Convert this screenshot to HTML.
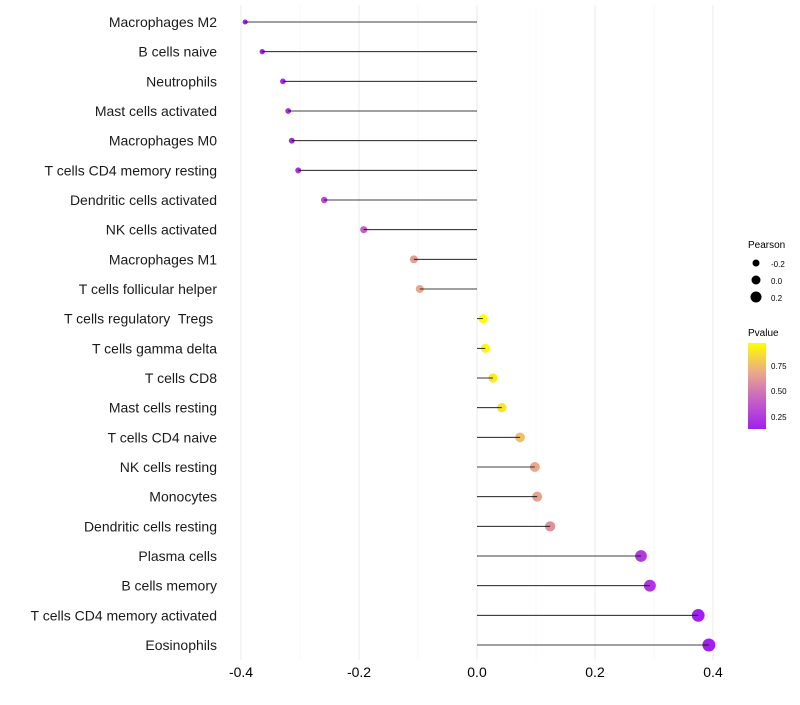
<!DOCTYPE html>
<html><head><meta charset="utf-8"><style>
body{margin:0;background:#fff;font-family:"Liberation Sans",sans-serif}
text{white-space:pre}
</style></head><body>
<svg id="chart" width="800" height="700" xmlns="http://www.w3.org/2000/svg">
<defs><linearGradient id="pg" x1="0" y1="1" x2="0" y2="0">
<stop offset="0" stop-color="#a020f0"/><stop offset="0.35" stop-color="#c963c4"/><stop offset="0.65" stop-color="#e9a78c"/><stop offset="1" stop-color="#ffff00"/>
</linearGradient></defs>
<g id="grid"></g><g id="dots"></g><g id="stems"></g><g id="labels"></g>
<g>
<text x="748" y="248" font-size="10">Pearson</text>
<circle cx="756" cy="263" r="3.5" fill="#000"/><text x="771" y="267" font-size="8">-0.2</text>
<circle cx="756" cy="280" r="4.5" fill="#000"/><text x="771" y="284" font-size="8">0.0</text>
<circle cx="756" cy="297" r="5.5" fill="#000"/><text x="771" y="301" font-size="8">0.2</text>
</g>
<g>
<text x="748" y="336" font-size="10">Pvalue</text>
<rect x="748" y="343" width="18" height="86" fill="url(#pg)"/>
<text x="771" y="369" font-size="8">0.75</text>
<text x="771" y="394" font-size="8">0.50</text>
<text x="771" y="420" font-size="8">0.25</text>
</g>
</svg>
<script>
const categories=["Macrophages M2","B cells naive","Neutrophils","Mast cells activated","Macrophages M0","T cells CD4 memory resting","Dendritic cells activated","NK cells activated","Macrophages M1","T cells follicular helper","T cells regulatory  Tregs ","T cells gamma delta","T cells CD8","Mast cells resting","T cells CD4 naive","NK cells resting","Monocytes","Dendritic cells resting","Plasma cells","B cells memory","T cells CD4 memory activated","Eosinophils"];
const pearson=[-0.393,-0.364,-0.329,-0.320,-0.314,-0.303,-0.259,-0.192,-0.107,-0.097,0.010,0.014,0.027,0.042,0.073,0.098,0.102,0.124,0.278,0.293,0.375,0.393];
const pvalue=[0.12,0.15,0.18,0.18,0.17,0.2,0.3,0.4,0.65,0.68,0.97,0.95,0.9,0.88,0.76,0.68,0.66,0.6,0.25,0.22,0.1,0.08];
const xticks=[-0.4,-0.2,0.0,0.2,0.4];
const xtickLabels=["-0.4","-0.2","0.0","0.2","0.4"];
const NS="http://www.w3.org/2000/svg";
const x=v=>477+v*590;
const y=i=>22+i*(623/21);
const r=v=>4.5+5*v;
function hex(c){return c.match(/\w\w/g).map(h=>parseInt(h,16));}
const stops=[[0.13,"a020f0"],[0.42,"c963c4"],[0.68,"e9a78c"],[0.97,"ffff00"]];
function col(p){p=Math.max(0.13,Math.min(0.97,p));for(let k=0;k<stops.length-1;k++){const[a,ca]=stops[k],[b,cb]=stops[k+1];if(p<=b){const t=(p-a)/(b-a),A=hex(ca),B=hex(cb);return "rgb("+A.map((v,j)=>Math.round(v+(B[j]-v)*t)).join(",")+")";}}return "#ff0";}
function mk(tag,attrs,parent){const e=document.createElementNS(NS,tag);for(const k in attrs)e.setAttribute(k,attrs[k]);parent.appendChild(e);return e;}
const grid=document.getElementById('grid'),dots=document.getElementById('dots'),stems=document.getElementById('stems'),labels=document.getElementById('labels');
[-0.3,-0.1,0.1,0.3].forEach(v=>{const l=mk('line',{x1:x(v),x2:x(v),y1:5,y2:660,stroke:"#f4f4f4","stroke-width":0.5},grid);

});
xticks.forEach((v,i)=>{const l=mk('line',{x1:x(v),x2:x(v),y1:5,y2:660,stroke:"#ebebeb","stroke-width":1},grid);


const t=mk('text',{x:x(v),y:677,"font-size":14,"text-anchor":"middle",fill:"#000"},labels);t.textContent=xtickLabels[i];

});
categories.forEach((c,i)=>{const yy=y(i);
const d=mk('circle',{cx:x(pearson[i]),cy:yy,r:r(pearson[i]),fill:col(pvalue[i])},dots);


const l=mk('line',{x1:x(0),x2:x(pearson[i]),y1:yy,y2:yy,stroke:"#000","stroke-width":0.8},stems);


const t=mk('text',{x:217,y:yy+5,"font-size":14,"text-anchor":"end",fill:"#1a1a1a"},labels);t.textContent=c;

});
</script>
</body></html>
